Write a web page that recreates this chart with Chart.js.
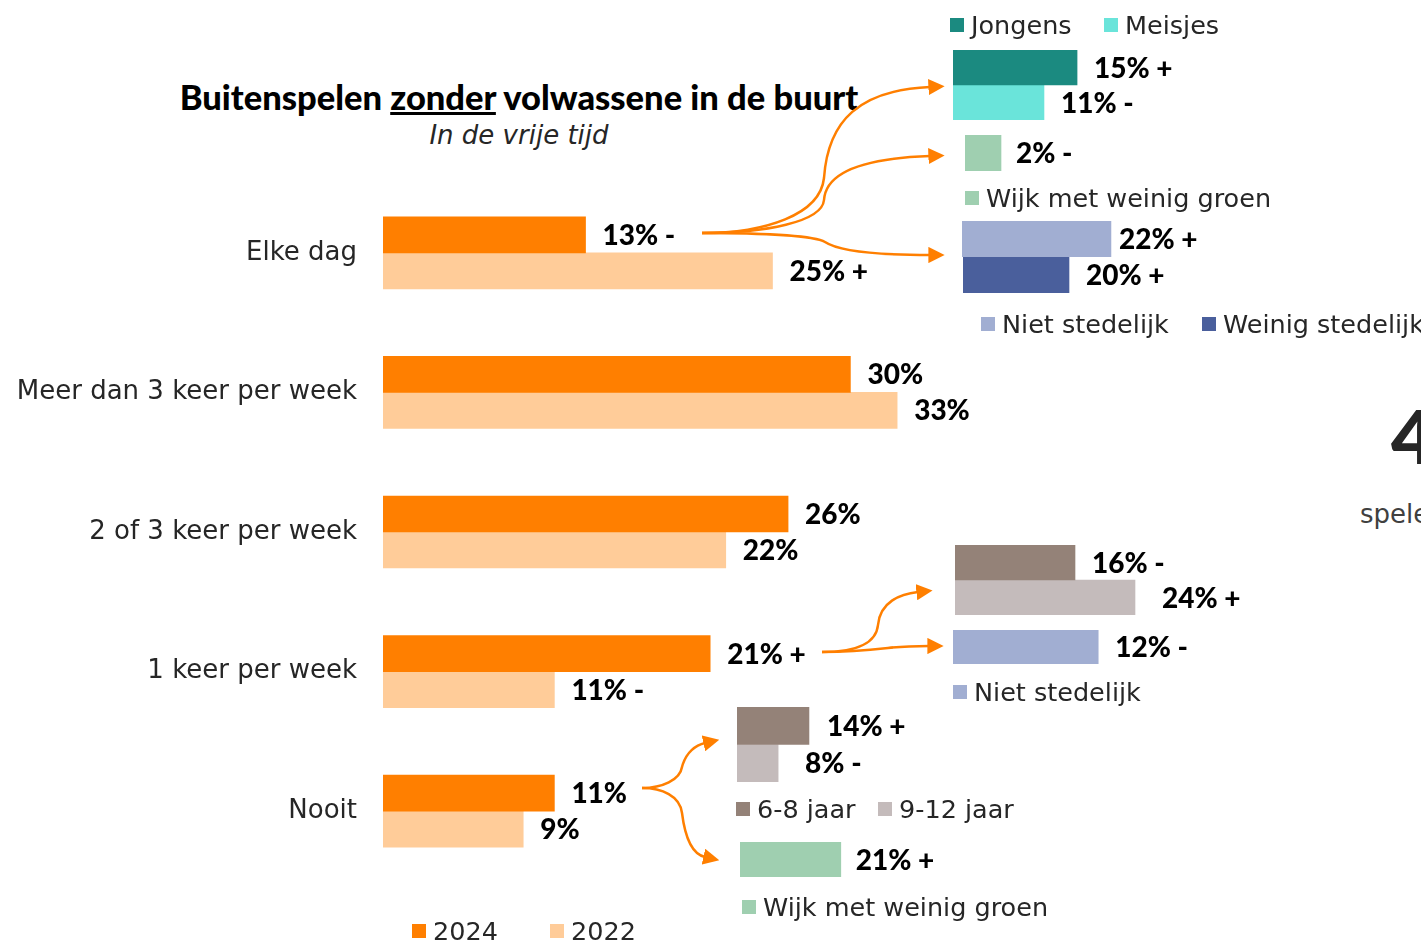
<!DOCTYPE html>
<html lang="nl">
<head>
  <meta charset="UTF-8">
  <title>Buitenspelen zonder volwassene</title>
  <script src="https://cdn.jsdelivr.net/npm/chart.js"></script>
  <style>
    html, body {
      margin: 0;
      padding: 0;
      width: 1421px;
      height: 943px;
      overflow: hidden;
      background: #ffffff;
      font-family: 'DejaVu Sans', sans-serif;
      color: #262626;
    }
    .abs { position: absolute; }
    canvas { position: absolute; }
    .title {
      left: 119px; width: 800px; top: 76px;
      text-align: center;
      font-family: 'Lato', sans-serif;
      font-weight: 900;
      font-size: 34.5px;
      color: #000;
      white-space: nowrap;
    }
    .subtitle {
      left: 119px; width: 800px; top: 120px;
      text-align: center;
      font-style: italic;
      font-size: 26px;
    }
    .legend-item {
      display: flex;
      align-items: center;
      font-size: 25.5px;
      white-space: nowrap;
      transform: translateY(-50%);
    }
    .legend-item span.box {
      display: inline-block;
      width: 14px;
      height: 14px;
      margin-right: 7px;
    }
    #arrows { position: absolute; left: 0; top: 0; }
  </style>
</head>
<body>

<div class="abs title">Buitenspelen <u>zonder</u> volwassene in de buurt</div>
<div class="abs subtitle">In de vrije tijd</div>

<div class="abs" style="left:1391px; top:391px; font-family:'Lato'; font-weight:900; font-size:74px; color:#262626;">4</div>
<div class="abs" style="left:1360px; top:499px; font-size:26px; color:#404040;">spelen</div>

<canvas id="mainChart" width="990" height="698" style="left:0; top:183px;"></canvas>

<svg id="arrows" width="1421" height="943">
  <defs>
    <marker id="head" viewBox="0 0 10 10" refX="1" refY="5" markerWidth="6.5" markerHeight="6.5" orient="auto">
      <path d="M0,0 L10,5 L0,10 z" fill="#ff7f00"></path>
    </marker>
  </defs>
  <g fill="none" stroke="#ff7f00" stroke-width="2.5" marker-end="url(#head)">
    <path d="M702,233 C765,233 820,215 824,178 C828,120 860,90 930,87"></path>
    <path d="M702,233 C765,233 822,222 824,200 C826,170 870,158 930,156"></path>
    <path d="M702,233 C765,233 815,236 825,242 C840,252 880,255 930,255"></path>
    <path d="M822,652 C852,652 876,645 878,625 C880,602 900,594 918,592"></path>
    <path d="M822,652 C852,652 870,650 888,648 C905,646 915,646 929,646"></path>
    <path d="M642,788 C662,788 680,780 682,767 C686,752 696,745 705,743"></path>
    <path d="M642,788 C662,788 680,796 682,813 C686,845 696,855 705,857"></path>
  </g>
</svg>

<script>
  // main chart data
  var categories = ['Elke dag', 'Meer dan 3 keer per week', '2 of 3 keer per week', '1 keer per week', 'Nooit'];
  var years = ['2024', '2022'];
  var values2024 = [13, 30, 26, 21, 11];
  var values2022 = [25, 33, 22, 11, 9];
  var marks2024 = ['-', '', '', '+', ''];
  var marks2022 = ['+', '', '', '-', ''];

  // side charts data
  var genderNames = ['Jongens', 'Meisjes'];
  var genderValues = [15, 11];
  var genderMarks = ['+', '-'];

  var greenName = 'Wijk met weinig groen';
  var greenDailyValue = [2];
  var greenDailyMark = ['-'];

  var urbanNames = ['Niet stedelijk', 'Weinig stedelijk'];
  var ruralDailyValue = [22];
  var ruralDailyMark = ['+'];
  var lowUrbanDailyValue = [20];
  var lowUrbanDailyMark = ['+'];

  var ageNames = ['6-8 jaar', '9-12 jaar'];
  var ageWeeklyValues = [16, 24];
  var ageWeeklyMarks = ['-', '+'];
  var ruralWeeklyValue = [12];
  var ruralWeeklyMark = ['-'];

  var ageNeverValues = [14, 8];
  var ageNeverMarks = ['+', '-'];
  var greenNeverValue = [21];
  var greenNeverMark = ['+'];

  var ORANGE = '#ff7f00', PEACH = '#ffcc99';
  var TEAL = '#1b8a80', AQUA = '#6ae4da', GREEN = '#9fcfb0';
  var LILAC = '#a1aed2', NAVY = '#4a5f9c', TAUPE = '#948278', GREY = '#c4bbbb';

  // draws "13% -" style labels next to each bar
  var barTags = {
    id: 'barTags',
    afterDatasetsDraw: function(chart, args, opts) {
      var ctx = chart.ctx;
      ctx.save();
      ctx.font = '900 28px Lato, sans-serif';
      ctx.fillStyle = '#000';
      ctx.textBaseline = 'middle';
      ctx.textAlign = 'left';
      chart.data.datasets.forEach(function(ds, i) {
        var meta = chart.getDatasetMeta(i);
        var marks = opts.marks[i] || [];
        var gap = (opts.gaps && opts.gaps[i] !== undefined) ? opts.gaps[i] : 17;
        meta.data.forEach(function(bar, j) {
          var m = marks[j] ? ' ' + marks[j] : '';
          ctx.fillText(ds.data[j] + '%' + m, bar.x + gap, bar.y + 1);
        });
      });
      ctx.restore();
    }
  };

  // main chart
  var pxPerPct = 15.58;
  var mainCanvas = document.getElementById('mainChart');
  new Chart(mainCanvas.getContext('2d'), {
    type: 'bar',
    data: {
      labels: categories,
      datasets: [
        { label: years[0], data: values2024, backgroundColor: ORANGE, barThickness: 36 },
        { label: years[1], data: values2022, backgroundColor: PEACH, barThickness: 36 }
      ]
    },
    options: {
      indexAxis: 'y',
      responsive: false,
      animation: false,
      layout: { padding: 0 },
      scales: {
        x: { display: false, min: 0, max: (990 - 383) / pxPerPct },
        y: {
          afterFit: function(scale) {
            scale.width = 383;
            scale.paddingTop = 0;
            scale.paddingBottom = 0;
          },
          grid: { display: false, drawTicks: false },
          border: { display: false },
          ticks: { padding: 26, color: '#262626', font: { family: 'DejaVu Sans', size: 26 } }
        }
      },
      plugins: {
        legend: { display: false },
        tooltip: { enabled: false },
        barTags: { marks: [marks2024, marks2022] }
      }
    },
    plugins: [barTags]
  });

  // small side charts, one category each
  function miniChart(left, top, barH, pxPer, values, colors, marks, gaps) {
    var width = 320;
    var canvas = document.createElement('canvas');
    canvas.width = width;
    canvas.height = values.length * barH;
    canvas.style.left = left + 'px';
    canvas.style.top = top + 'px';
    document.body.appendChild(canvas);
    var datasets = values.map(function(v, i) {
      return { data: [v], backgroundColor: colors[i], barThickness: barH };
    });
    new Chart(canvas.getContext('2d'), {
      type: 'bar',
      data: { labels: [''], datasets: datasets },
      options: {
        indexAxis: 'y',
        responsive: false,
        animation: false,
        layout: { padding: 0 },
        scales: {
          x: { display: false, min: 0, max: width / pxPer },
          y: { display: false }
        },
        plugins: {
          legend: { display: false },
          tooltip: { enabled: false },
          barTags: { marks: marks.map(function(m) { return [m]; }), gaps: gaps }
        }
      },
      plugins: [barTags]
    });
  }

  miniChart(953, 50, 35, 8.27, genderValues, [TEAL, AQUA], genderMarks);
  miniChart(965, 135, 36, 18, greenDailyValue, [GREEN], greenDailyMark, [15]);
  miniChart(962, 221, 36, 6.77, ruralDailyValue, [LILAC], ruralDailyMark, [8]);
  miniChart(963, 257, 36, 5.3, lowUrbanDailyValue, [NAVY], lowUrbanDailyMark);
  miniChart(955, 545, 35, 7.5, ageWeeklyValues, [TAUPE, GREY], ageWeeklyMarks, [17, 27]);
  miniChart(953, 630, 34, 12.1, ruralWeeklyValue, [LILAC], ruralWeeklyMark);
  miniChart(737, 707, 37.5, 5.14, ageNeverValues, [TAUPE, GREY], ageNeverMarks, [18, 27]);
  miniChart(740, 842, 35, 4.8, greenNeverValue, [GREEN], greenNeverMark, [15]);

  // legends
  function legendItem(x, y, text, color) {
    var d = document.createElement('div');
    d.className = 'abs legend-item';
    d.style.left = x + 'px';
    d.style.top = y + 'px';
    d.innerHTML = '<span class="box" style="background:' + color + '"></span>' + text;
    document.body.appendChild(d);
  }

  legendItem(950, 25, genderNames[0], TEAL);
  legendItem(1104, 25, genderNames[1], AQUA);
  legendItem(965, 198, greenName, GREEN);
  legendItem(981, 324, urbanNames[0], LILAC);
  legendItem(1202, 324, urbanNames[1], NAVY);
  legendItem(953, 692, urbanNames[0], LILAC);
  legendItem(736, 809, ageNames[0], TAUPE);
  legendItem(878, 809, ageNames[1], GREY);
  legendItem(742, 907, greenName, GREEN);
  legendItem(412, 931, years[0], ORANGE);
  legendItem(550, 931, years[1], PEACH);
</script>
</body>
</html>
